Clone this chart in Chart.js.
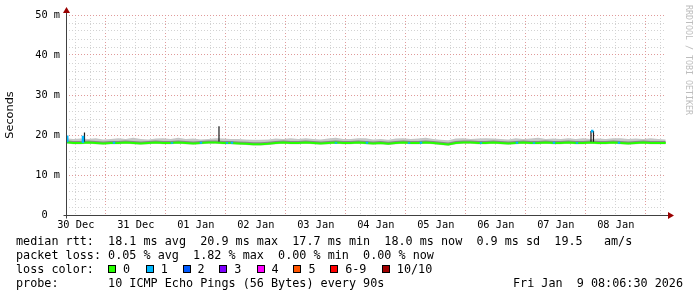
<!DOCTYPE html>
<html>
<head>
<meta charset="utf-8">
<script src="https://cdn.jsdelivr.net/npm/chart.js@4/dist/chart.umd.min.js"></script>
<style>
  body { margin: 0; background: #fff; }
  #wrap { position: relative; width: 697px; height: 297px; overflow: hidden; }
  #chart { position: absolute; left: 0; top: 0; }
  .txt { position: absolute; margin: 0; font: 11.78px "DejaVu Sans Mono", monospace; line-height: 14px; white-space: pre; color: #000; }
  .box { position: absolute; top: 265px; width: 8px; height: 8px; border: 1px solid #000; box-sizing: border-box; }
</style>
</head>
<body>
<div id="wrap">
  <canvas id="chart" width="697" height="297"></canvas>
  <div class="txt" style="left:16px;top:234px">median rtt:  18.1 ms avg  20.9 ms max  17.7 ms min  18.0 ms now  0.9 ms sd  19.5   am/s</div>
  <div class="txt" style="left:16px;top:248px">packet loss: 0.05 % avg  1.82 % max  0.00 % min  0.00 % now</div>
  <div class="txt" style="left:16px;top:262px">loss color:</div>
  <div id="losslegend"></div>
  <div class="txt" style="left:16px;top:276px">probe:       10 ICMP Echo Pings (56 Bytes) every 90s</div>
  <div class="txt" style="left:513px;top:276px">Fri Jan  9 08:06:30 2026</div>
</div>
<script>
function $(id) {
  return id === "" ? null : document.getElementById(id);
}

// hours after 30 Dec 00:00, graph covers 30 Dec 08:06:30 .. 09 Jan 08:06:30
const xMin = 8.108;
const xMax = 248.108;
const dayLabels = ["30 Dec", "31 Dec", "01 Jan", "02 Jan", "03 Jan", "04 Jan", "05 Jan", "06 Jan", "07 Jan", "08 Jan"];

const times = [8.2, 11, 14, 17, 20, 23, 26, 29, 32, 35, 38, 41, 44, 47, 50, 53, 56, 59, 62, 65, 68,
  71, 74, 77, 80, 83, 86, 89, 92, 95, 98, 101, 104, 107, 110, 113, 116, 119, 122, 125, 128,
  131, 134, 137, 140, 143, 146, 149, 152, 155, 158, 161, 164, 167, 170, 173, 176, 179, 182, 185, 188,
  191, 194, 197, 200, 203, 206, 209, 212, 215, 218, 221, 224, 227, 230, 233, 236, 239, 242, 245, 248];

// values in ms
const median = [18.2,
  18.0, 18.0, 18.1, 18.0, 17.9, 18.0, 18.0, 18.1, 18.0, 17.9,
  18.0, 18.1, 18.0, 18.0, 18.1, 18.0, 17.9, 18.0, 18.1, 18.1,
  18.0, 18.0, 17.9, 17.8, 17.7, 17.7, 17.8, 18.0, 18.1, 18.0,
  18.0, 18.1, 18.0, 17.9, 18.0, 18.1, 18.0, 18.0, 18.1, 18.0,
  17.9, 18.0, 17.8, 18.0, 18.1, 18.0, 18.0, 18.1, 18.0, 17.8,
  17.6, 18.0, 18.1, 18.1, 18.0, 18.0, 18.1, 18.0, 17.9, 18.0,
  18.1, 18.0, 18.0, 18.1, 18.0, 18.0, 18.1, 18.0, 18.0, 18.1,
  18.0, 18.0, 18.1, 18.0, 17.9, 18.0, 18.1, 18.0, 18.0, 18.0];
const smokeInner = [18.7,
  18.5, 18.5, 18.6, 18.5, 18.4, 18.5, 18.5, 18.6, 18.5, 18.4,
  18.5, 18.6, 18.5, 18.5, 18.6, 18.5, 18.4, 18.5, 18.6, 18.6,
  18.5, 18.5, 18.4, 18.3, 18.2, 18.2, 18.3, 18.5, 18.6, 18.5,
  18.5, 18.6, 18.5, 18.4, 18.5, 18.6, 18.5, 18.5, 18.6, 18.5,
  18.4, 18.5, 18.3, 18.5, 18.6, 18.5, 18.5, 18.6, 18.5, 18.3,
  18.1, 18.5, 18.6, 18.6, 18.5, 18.5, 18.6, 18.5, 18.4, 18.5,
  18.6, 18.5, 18.5, 18.6, 18.5, 18.5, 18.6, 18.5, 18.5, 18.6,
  18.5, 18.5, 18.6, 18.5, 18.4, 18.5, 18.6, 18.5, 18.5, 18.5];
const smokeHi = [19.2,
  19.0, 19.1, 19.0, 19.2, 18.9, 19.0, 19.2, 19.0, 19.3, 19.0,
  18.9, 19.1, 19.2, 19.0, 19.3, 19.0, 19.1, 18.9, 19.0, 19.2,
  19.1, 19.0, 19.0, 18.9, 18.8, 18.8, 18.9, 19.1, 19.0, 19.2,
  19.0, 19.2, 19.0, 18.9, 19.1, 19.3, 19.0, 19.0, 19.2, 19.2,
  18.9, 19.0, 18.8, 19.1, 19.2, 19.0, 19.1, 19.3, 19.0, 18.8,
  18.7, 19.1, 19.2, 19.0, 19.1, 19.2, 19.1, 19.0, 18.9, 19.2,
  19.0, 19.1, 19.3, 19.0, 19.1, 19.0, 19.2, 19.0, 19.2, 19.0,
  19.1, 19.0, 19.2, 19.2, 19.0, 19.1, 19.0, 19.2, 19.0, 18.9];
const smokeLo = [17.9,
  17.7, 17.7, 17.8, 17.7, 17.6, 17.7, 17.7, 17.8, 17.7, 17.6,
  17.7, 17.8, 17.7, 17.7, 17.8, 17.7, 17.6, 17.7, 17.8, 17.8,
  17.7, 17.7, 17.6, 17.5, 17.4, 17.4, 17.5, 17.7, 17.8, 17.7,
  17.7, 17.8, 17.7, 17.6, 17.7, 17.8, 17.7, 17.7, 17.8, 17.7,
  17.6, 17.7, 17.5, 17.7, 17.8, 17.7, 17.7, 17.8, 17.7, 17.5,
  17.3, 17.7, 17.8, 17.8, 17.7, 17.7, 17.8, 17.7, 17.6, 17.7,
  17.8, 17.7, 17.7, 17.8, 17.7, 17.7, 17.8, 17.7, 17.7, 17.8,
  17.7, 17.7, 17.8, 17.7, 17.6, 17.7, 17.8, 17.7, 17.7, 17.7];

// short rtt spikes (dark smoke)
const spikeTimes = [15.5, 69.3, 218.1, 219.1];
const spikeLow = [18.3, 18.4, 18.3, 18.3];
const spikeHigh = [20.6, 22.2, 21.0, 21.0];

// samples with 1 of 10 pings lost
const lossTimes = [8.6, 14.9, 27.3, 50.5, 62.1, 72.5, 74.5, 116.1, 128.5, 145.3, 150.1, 174.1, 188.5, 195.3, 203.3, 212.5, 218.6, 229.3];
const lossLow = [18.2, 18.0, 17.8, 17.8, 17.8, 17.8, 17.8, 17.8, 17.8, 17.8, 17.8, 17.8, 17.8, 17.8, 17.8, 17.8, 20.6, 17.8];
const lossHigh = [19.9, 19.8, 18.3, 18.2, 18.3, 18.2, 18.3, 18.2, 18.3, 18.2, 18.3, 18.2, 18.3, 18.2, 18.3, 18.2, 21.3, 18.3];

const lossLabels = ["0", "1", "2", "3", "4", "5", "6-9", "10/10"];
const lossColors = ["#26ff00", "#00b8ff", "#0059ff", "#7e00ff", "#ff00ff", "#ff5500", "#ff0000", "#a10000"];
const lossBoxX = [108, 145.7, 182.5, 219.3, 256.6, 293.4, 330.2, 381.8];

const majorGrid = "#e09a9a";
const minorGrid = "#d2d2d2";

function pts(ys) {
  return times.map((t, i) => ({ x: t, y: ys[i] }));
}

function bars(ts, lo, hi) {
  const out = [];
  ts.forEach((t, i) => {
    out.push({ x: t, y: lo[i] });
    out.push({ x: t, y: hi[i] });
    out.push({ x: t, y: null });
  });
  return out;
}

const rrdAxes = {
  id: "rrdAxes",
  afterDraw: (chart) => {
    const { ctx, chartArea: a } = chart;
    const x0 = Math.round(a.left) + 0.5;
    const y0 = Math.round(a.bottom) + 0.5;
    ctx.save();
    ctx.strokeStyle = "#404040";
    ctx.lineWidth = 1;
    ctx.beginPath();
    ctx.moveTo(x0, y0 + 3);
    ctx.lineTo(x0, a.top - 3);
    ctx.moveTo(x0 - 3, y0);
    ctx.lineTo(a.right + 3, y0);
    ctx.stroke();
    ctx.fillStyle = "#9a0000";
    ctx.beginPath();
    ctx.moveTo(x0, a.top - 8);
    ctx.lineTo(x0 - 3.5, a.top - 2);
    ctx.lineTo(x0 + 3.5, a.top - 2);
    ctx.closePath();
    ctx.fill();
    ctx.beginPath();
    ctx.moveTo(a.right + 8, y0);
    ctx.lineTo(a.right + 2, y0 - 3.5);
    ctx.lineTo(a.right + 2, y0 + 3.5);
    ctx.closePath();
    ctx.fill();
    // watermark
    ctx.translate(688, 5);
    ctx.rotate(Math.PI / 2);
    ctx.fillStyle = "#bdbdbd";
    ctx.font = '8.3px "DejaVu Sans Mono"';
    ctx.textBaseline = "middle";
    ctx.fillText("RRDTOOL / TOBI OETIKER", 0, 0);
    ctx.restore();
  },
};

function onload() {
  $("losslegend").innerHTML = lossLabels
    .map(
      (lbl, i) =>
        `<span class="box" style="left:${lossBoxX[i]}px;background:${lossColors[i]}"></span>` +
        `<div class="txt" style="left:${lossBoxX[i] + 15}px;top:262px">${lbl}</div>`
    )
    .join("");

  new Chart($("chart"), {
    type: "line",
    data: {
      datasets: [
        { data: pts(smokeLo), borderWidth: 0, pointRadius: 0, fill: false, order: 4 },
        { data: pts(smokeHi), borderWidth: 0, pointRadius: 0, fill: 0, backgroundColor: "#c6c6c6", order: 3 },
        { data: pts(median), borderColor: lossColors[0], borderWidth: 2, pointRadius: 0, fill: false, order: 1 },
        { data: pts(smokeInner), borderWidth: 0, pointRadius: 0, fill: 2, backgroundColor: "#888888", order: 2 },
        { data: bars(spikeTimes, spikeLow, spikeHigh), borderColor: "#1a1a1a", borderWidth: 1.2, pointRadius: 0, spanGaps: false, fill: false, order: 0 },
        { data: bars(lossTimes, lossLow, lossHigh), borderColor: lossColors[1], borderWidth: 2.5, borderCapStyle: "butt", pointRadius: 0, spanGaps: false, fill: false, order: -1 },
      ],
    },
    options: {
      responsive: false,
      animation: false,
      events: [],
      layout: { padding: { left: 0, right: 31, top: 15, bottom: 62 } },
      elements: { line: { tension: 0 } },
      plugins: { legend: { display: false }, tooltip: { enabled: false } },
      scales: {
        x: {
          type: "linear",
          min: xMin,
          max: xMax,
          offset: false,
          afterBuildTicks: (s) => {
            const t = [];
            for (let h = 12; h < xMax; h += 6) t.push({ value: h });
            s.ticks = t;
          },
          afterFit: (s) => {
            s.height = 20;
          },
          grid: {
            offset: false,
            drawTicks: false,
            color: (c) => (c.tick && c.tick.value % 24 === 0 ? majorGrid : minorGrid),
          },
          border: { display: false, dash: [1, 2] },
          ticks: {
            autoSkip: false,
            maxRotation: 0,
            padding: 4,
            color: "#000",
            font: { family: "DejaVu Sans Mono", size: 10.3 },
            callback: (v) => (v % 24 === 12 ? dayLabels[(v - 12) / 24] : ""),
          },
        },
        y: {
          min: 0,
          max: 50,
          afterBuildTicks: (s) => {
            const t = [];
            for (let v = 0; v <= 50; v += 2) t.push({ value: v });
            s.ticks = t;
          },
          afterFit: (s) => {
            s.width = 66;
          },
          grid: {
            drawTicks: false,
            color: (c) => (c.tick && c.tick.value % 10 === 0 ? majorGrid : minorGrid),
          },
          border: { display: false, dash: [1, 2] },
          title: {
            display: true,
            text: "Seconds",
            color: "#000",
            padding: { top: 3, bottom: 0 },
            font: { family: "DejaVu Sans", size: 11.3 },
          },
          ticks: {
            autoSkip: false,
            padding: 6,
            color: "#000",
            font: { family: "DejaVu Sans Mono", size: 10.3 },
            callback: (v) => (v % 10 !== 0 ? "" : v === 0 ? "0  " : v + " m"),
          },
        },
      },
    },
    plugins: [rrdAxes],
  });
}

window.addEventListener("load", onload);
</script>
</body>
</html>
